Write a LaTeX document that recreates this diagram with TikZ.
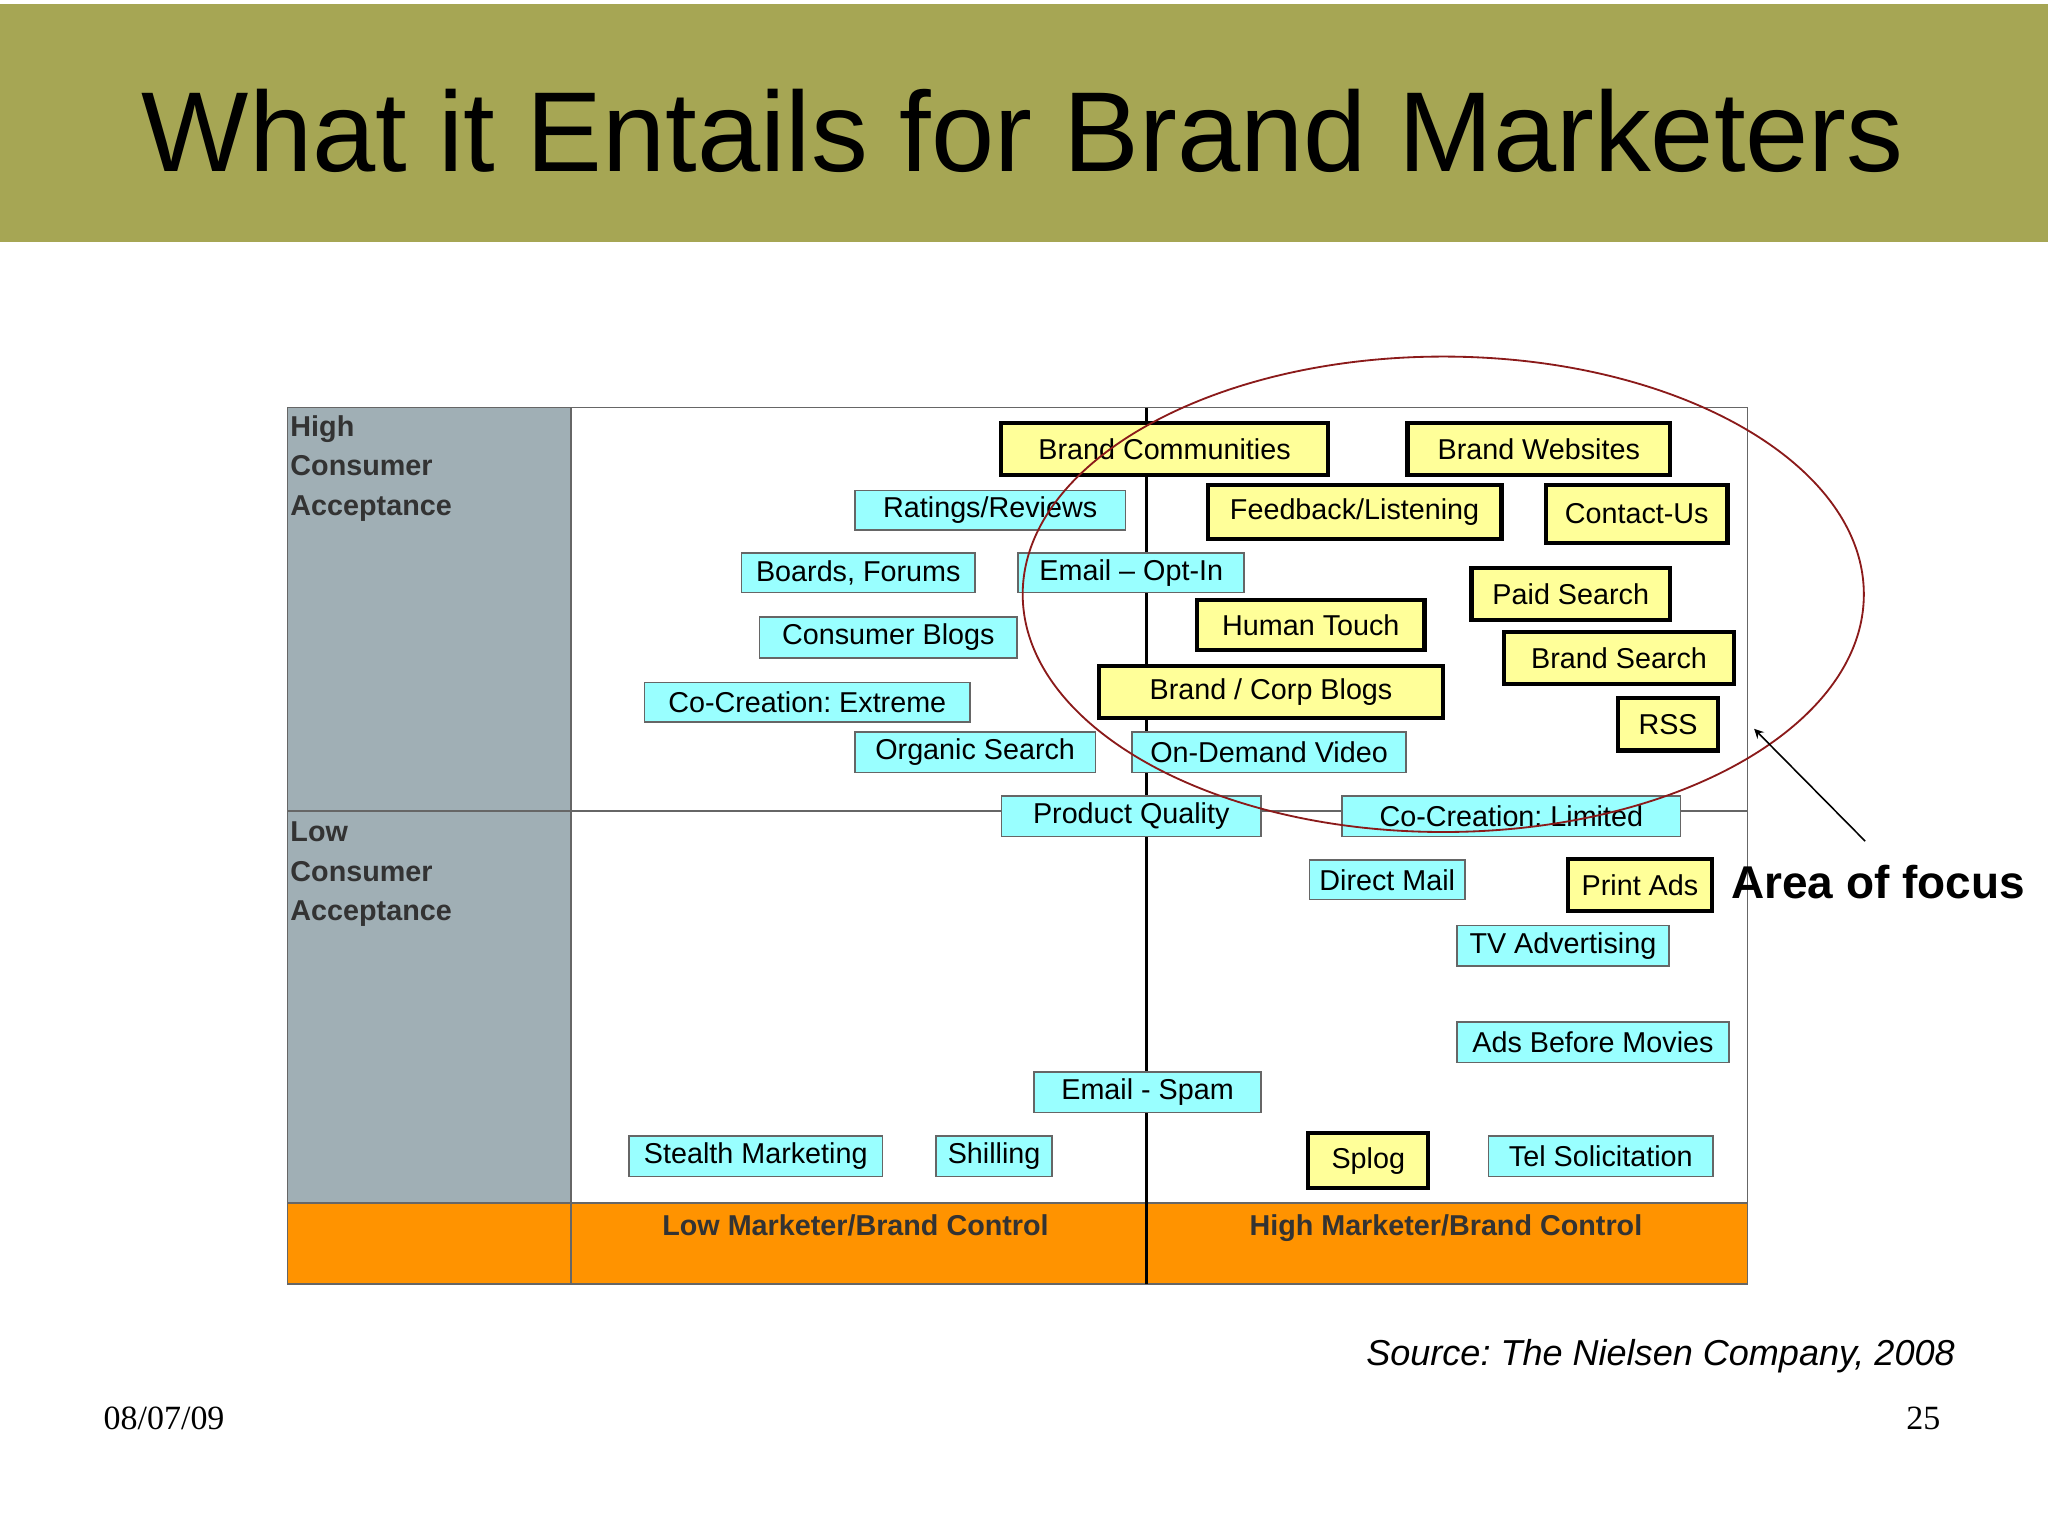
\documentclass[tikz,border=0pt]{standalone}
\usepackage{fontspec}
\setmainfont{Liberation Sans}
\newfontfamily\serifx{Liberation Serif}
\frenchspacing
\definecolor{olive}{HTML}{A6A654}
\definecolor{greycol}{HTML}{A0AFB5}
\definecolor{orng}{HTML}{FF9300}
\definecolor{cyanb}{HTML}{99FFFF}
\definecolor{yelb}{HTML}{FFFF99}
\definecolor{ellred}{HTML}{8B1A1A}
\newcommand\mybox[7]{%
\pgfmathsetmacro\bw{(#5-#3)*0.5}\pgfmathsetmacro\bh{(#6-#4)*0.5}%
\node[#1,minimum width=\bw pt,minimum height=\bh pt,anchor=north west] (#2) at (#3,#4) {#7};}
\begin{document}
\begin{tikzpicture}[x=0.5pt,y=-0.5pt,
 cbox/.style={fill=cyanb,draw=black!60,line width=0.6pt,inner sep=0pt,font=\fontsize{11}{12}\selectfont\frenchspacing},
 ybox/.style={fill=yelb,draw=black,line width=1.6pt,inner sep=0pt,font=\fontsize{11}{12}\selectfont\frenchspacing},
 rowlab/.style={anchor=north west,align=left,font=\fontsize{11}{15}\selectfont\bfseries,text=black!80,inner sep=0pt},
 collab/.style={anchor=base,font=\fontsize{11}{12}\selectfont\bfseries,text=black!80}]
\useasboundingbox (0,0) rectangle (1568,1176);
\fill[white] (0,0) rectangle (1568,1176);
\fill[olive] (0,3) rectangle (1568,185);
\node[font=\fontsize{43.5}{46}\selectfont] (title) at (783,100) {What it Entails for Brand Marketers};
% chart
\fill[greycol] (220,312) rectangle (437,921);
\fill[orng] (220,921) rectangle (1338,983);
\draw[black!60,line width=0.6pt] (220,312) rectangle (1338,983);
\draw[black!60,line width=0.6pt] (437,312) -- (437,983);
\draw[black!60,line width=0.6pt] (220,621) -- (1338,621);
\draw[black!60,line width=0.6pt] (220,921) -- (1338,921);
\draw[black,line width=1pt] (878,312) -- (878,983);
\node[rowlab] (hi) at (222,318) {High\\Consumer\\Acceptance};
\node[rowlab] (lo) at (222,629) {Low\\Consumer\\Acceptance};
\node[collab] (lc) at (655,946) {Low Marketer/Brand Control};
\node[collab] (hc) at (1107,946) {High Marketer/Brand Control};
% cyan boxes
\mybox{cbox}{rr}{654}{375}{861}{405}{Ratings/Reviews}
\mybox{cbox}{bf}{567}{423}{746}{453}{Boards, Forums}
\mybox{cbox}{eo}{779}{423}{952}{453}{Email -- Opt-In}
\mybox{cbox}{cb}{581}{472}{778}{503}{Consumer Blogs}
\mybox{cbox}{ce}{493}{522}{742}{552}{Co-Creation: Extreme}
\mybox{cbox}{os}{654}{560}{838}{591}{Organic Search}
\mybox{cbox}{od}{866}{560}{1076}{591}{On-Demand Video}
\mybox{cbox}{pq}{766}{609}{965}{640}{Product Quality}
\mybox{cbox}{cl}{1027}{609}{1286}{640}{Co-Creation: Limited}
\mybox{cbox}{dm}{1002}{658}{1121}{688}{Direct Mail}
\mybox{cbox}{tv}{1115}{708}{1277}{739}{TV Advertising}
\mybox{cbox}{ab}{1115}{782}{1323}{813}{Ads Before Movies}
\mybox{cbox}{es}{791}{820}{965}{851}{Email - Spam}
\mybox{cbox}{sm}{481}{869}{675}{900}{Stealth Marketing}
\mybox{cbox}{sh}{716}{869}{805}{900}{Shilling}
\mybox{cbox}{ts}{1139}{869}{1311}{900}{Tel Solicitation}
% yellow boxes
\mybox{ybox}{bc}{765}{322}{1015}{362}{Brand Communities}
\mybox{ybox}{bw}{1076}{322}{1277}{362}{Brand Websites}
\mybox{ybox}{fl}{923}{370}{1148}{411}{Feedback/Listening}
\mybox{ybox}{cu}{1182}{370}{1321}{414}{Contact-Us}
\mybox{ybox}{ps}{1125}{433}{1277}{473}{Paid Search}
\mybox{ybox}{ht}{915}{458}{1089}{496}{Human Touch}
\mybox{ybox}{bs}{1150}{482}{1326}{522}{Brand Search}
\mybox{ybox}{bcb}{840}{508}{1103}{548}{Brand / Corp Blogs}
\mybox{ybox}{rss}{1237}{533}{1314}{573}{RSS}
\mybox{ybox}{pa}{1199}{656}{1309}{696}{Print Ads}
\mybox{ybox}{sp}{1000}{866}{1092}{908}{Splog}
% ellipse
\draw[ellred,line width=0.7pt] (1105,455) ellipse [x radius=322, y radius=182];
\node[font=\fontsize{17.6}{19}\selectfont\bfseries,anchor=west,inner sep=0pt] (aof) at (1325,675) {Area of focus};
\coordinate (tail) at (1428,644);
\coordinate (tip) at (1343,558);
\draw[-stealth,line width=0.6pt] (tail) -- (tip);
\node[font=\fontsize{13.8}{15}\selectfont\itshape\frenchspacing,anchor=east,inner sep=0pt] (src) at (1497,1038) {Source: The Nielsen Company, 2008};
\node[font=\serifx\fontsize{13}{14}\selectfont,anchor=west,inner sep=0pt] (date) at (79,1086) {08/07/09};
\node[font=\serifx\fontsize{13}{14}\selectfont,anchor=east,inner sep=0pt] (pg) at (1486,1086) {25};
\end{tikzpicture}
\end{document}
